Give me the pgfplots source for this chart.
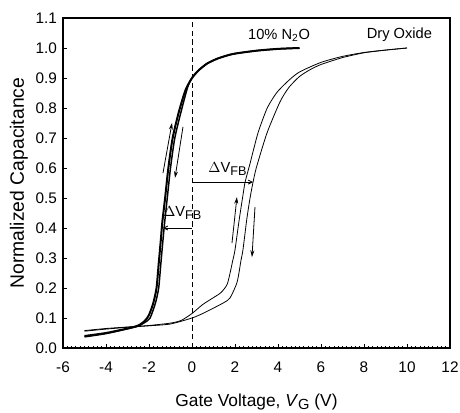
\documentclass[border=0pt]{standalone}
\usepackage{pgfplots}
\pgfplotsset{compat=1.18}
\usepackage{fontspec}
\setmainfont{Liberation Sans}
\usetikzlibrary{arrows.meta, calc}

\newcommand{\dvfb}{$\Delta$V\raisebox{-2.2pt}{\fontsize{9.5}{10}\selectfont FB}}

\begin{document}
\begin{tikzpicture}
  \begin{axis}[
    name=ax,
    scale only axis,
    width=290.25pt, height=247.5pt,
    xmin=-6, xmax=12, ymin=0, ymax=1.1,
    xtick={-6,-4,...,12},
    xticklabels={-6,-4,-2,0,2,4,6,8,10,12},
    ytick={0,0.1,...,1.1},
    yticklabels={0.0,0.1,0.2,0.3,0.4,0.5,0.6,0.7,0.8,0.9,1.0,1.1},
    minor x tick num=9,
    xtick pos=bottom, ytick pos=left,
    tick align=inside,
    major tick length=3pt, minor tick length=1.6pt,
    tick style={line width=0.6pt, black},
    axis line style={line width=0.8pt},
    ticklabel style={font=\fontsize{11.5}{13}\selectfont},
    xticklabel style={yshift=-7pt},
    yticklabel style={xshift=-1pt},
    xlabel={Gate Voltage, \textit{V}\raisebox{-2.5pt}{\fontsize{11}{12}\selectfont G} (V)},
    ylabel={Normalized Capacitance},
    xlabel style={font=\fontsize{13}{15}\selectfont, yshift=-9pt},
    ylabel style={font=\fontsize{14.5}{16}\selectfont, yshift=-1pt},
  ]
    % 10% N2O, two sweeps (thick)
    \addplot[black, line width=1.5pt, smooth, tension=0.4] coordinates {
      (-5,0.040) (-4,0.050) (-3,0.065) (-2.5,0.075) (-2.2,0.090) (-2.0,0.110)
      (-1.8,0.150) (-1.65,0.200) (-1.55,0.280) (-1.45,0.360) (-1.38,0.420)
      (-1.25,0.500) (-1.1,0.600) (-0.9,0.700) (-0.6,0.790) (-0.3,0.860)
      (0,0.900) (0.3,0.925) (0.7,0.948) (1.2,0.965) (1.9,0.980) (3,0.991)
      (4,0.997) (5,1.000)};
    \addplot[black, line width=1.1pt, smooth, tension=0.4] coordinates {
      (-5,0.037) (-4,0.048) (-3,0.064) (-2.5,0.073) (-2.2,0.085) (-1.95,0.100)
      (-1.7,0.150) (-1.55,0.200) (-1.45,0.280) (-1.35,0.360) (-1.27,0.420)
      (-1.15,0.500) (-1.0,0.600) (-0.8,0.700) (-0.5,0.790) (-0.2,0.870)
      (0,0.900) (0.3,0.925) (0.7,0.948) (1.2,0.965) (1.9,0.980) (3,0.991)
      (4,0.997) (5,1.000)};
    % Dry oxide, two sweeps (thin)
    \addplot[black, line width=0.6pt, smooth, tension=0.4] coordinates {
      (-5,0.058) (-4,0.065) (-3,0.070) (-2,0.075) (-1,0.083) (-0.5,0.092)
      (0,0.115) (0.5,0.145) (1,0.168) (1.35,0.185) (1.65,0.215) (1.9,0.293)
      (2.0,0.327) (2.2,0.430) (2.35,0.500) (2.47,0.553) (2.7,0.615)
      (3.07,0.717) (3.5,0.800) (3.95,0.852) (4.5,0.892) (5,0.920) (6,0.952)
      (7,0.972) (8,0.985) (9,0.993) (10,1.000)};
    \addplot[black, line width=0.6pt, smooth, tension=0.4] coordinates {
      (-5,0.056) (-4,0.063) (-3,0.069) (-2,0.074) (-1,0.080) (0,0.100)
      (0.5,0.115) (1,0.133) (1.5,0.152) (1.77,0.167) (2.1,0.220) (2.28,0.293)
      (2.37,0.327) (2.55,0.430) (2.7,0.500) (2.84,0.553) (3.0,0.603)
      (3.49,0.717) (4.09,0.820) (4.5,0.868) (5,0.905) (5.5,0.928) (6,0.945)
      (7,0.968) (8,0.984) (9,0.993) (10,1.000)};
    % zero-bias marker
    \draw[black, line width=0.7pt, dash pattern=on 4pt off 2.5pt]
      (axis cs:0,0) -- (axis cs:0,1.1);
    % sweep direction arrows
    \draw[-{Stealth[length=5pt,width=3pt]}, line width=0.6pt]
      (axis cs:-1.35,0.583) -- (axis cs:-0.93,0.750);
    \draw[-{Stealth[length=5pt,width=3pt]}, line width=0.6pt]
      (axis cs:-0.42,0.737) -- (axis cs:-0.79,0.567);
    \draw[-{Stealth[length=5pt,width=3pt]}, line width=0.6pt]
      (axis cs:1.86,0.350) -- (axis cs:2.09,0.503);
    \draw[-{Stealth[length=5pt,width=3pt]}, line width=0.6pt]
      (axis cs:2.93,0.470) -- (axis cs:2.79,0.303);
    % flat-band shifts
    \draw[-{Straight Barb[length=3pt,width=3pt]}, line width=0.6pt]
      (axis cs:0,0.400) -- (axis cs:-1.35,0.400);
    \draw[-{Straight Barb[length=3pt,width=3pt]}, line width=0.6pt]
      (axis cs:0,0.553) -- (axis cs:2.84,0.553);
    \node[font=\fontsize{11}{12}\selectfont] at (axis cs:-0.45,0.45) {\dvfb};
    \node[font=\fontsize{11}{12}\selectfont] at (axis cs:1.65,0.597) {\dvfb};
    \node[font=\fontsize{11}{12}\selectfont] at (axis cs:4.05,1.043)
      {10\% N\textsubscript{2}O};
    \node[font=\fontsize{11}{12}\selectfont] at (axis cs:9.65,1.043)
      {Dry Oxide};
  \end{axis}
  \pgfresetboundingbox
  \path ($(ax.south west)+(-47.25pt,-48.75pt)$) rectangle
        ($(ax.north east)+(7.5pt,13.5pt)$);
\end{tikzpicture}
\end{document}
